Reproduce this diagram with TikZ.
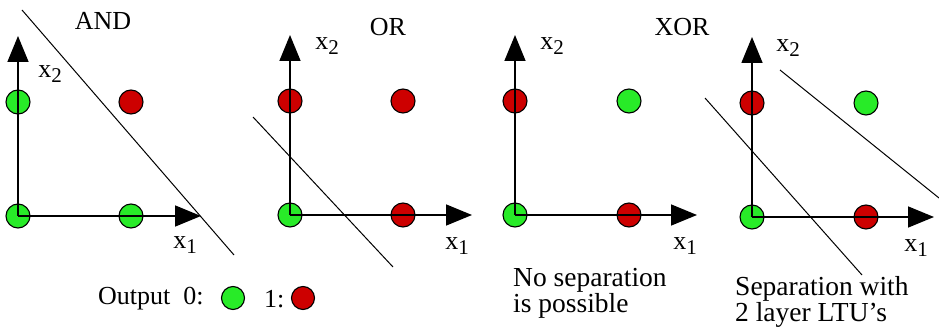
\documentclass[tikz,border=0pt]{standalone}
\usepackage{fontspec}
\setmainfont{Liberation Serif}
\usetikzlibrary{arrows.meta}
\newcommand{\xsub}[1]{x\raisebox{-5pt}{\fontsize{21}{21}\selectfont #1}}

\begin{document}
\begin{tikzpicture}[
        x=1pt, y=-1pt,
        zero/.style={circle, draw, line width=1.1pt, minimum size=24pt, inner sep=0pt, fill={rgb,255:red,40;green,235;blue,40}},
        one/.style={circle, draw, line width=1.1pt, minimum size=24pt, inner sep=0pt, fill={rgb,255:red,205;green,0;blue,0}},
        lbl/.style={inner sep=0pt, font=\fontsize{26}{24}\selectfont},
        note/.style={inner sep=0pt, align=left, anchor=north west, font=\fontsize{27.5}{24}\selectfont},
        axis/.style={-{Triangle[length=26pt, width=21pt]}, line width=1.6pt},
        cut/.style={line width=1pt}
    ]
        \useasboundingbox (0,0) rectangle (939,336);

        % AND
        \node[zero] (and00) at (18,216) {};
        \node[zero] (and01) at (18,102) {};
        \node[zero] (and10) at (131,216) {};
        \node[one] (and11) at (131,102) {};
        \coordinate (andO) at (18,216);
        \coordinate (andX) at (201,216);
        \coordinate (andY) at (18,36);
        \node[lbl] (andT) at (103,21) {AND};
        \node[lbl] (andx2) at (50,74) {\xsub{2}};
        \node[lbl] (andx1) at (185,245) {\xsub{1}};
        \coordinate (andA) at (22,10);
        \coordinate (andB) at (234,255);

        % OR
        \node[zero] (or00) at (290,215) {};
        \node[one] (or01) at (290,101) {};
        \node[one] (or10) at (403,215) {};
        \node[one] (or11) at (403,101) {};
        \coordinate (orO) at (290,215);
        \coordinate (orX) at (472,215);
        \coordinate (orY) at (290,35);
        \node[lbl] (orT) at (388,27) {OR};
        \node[lbl] (orx2) at (327,46) {\xsub{2}};
        \node[lbl] (orx1) at (457,246) {\xsub{1}};
        \coordinate (orA) at (253,117);
        \coordinate (orB) at (393,267);

        % XOR
        \node[zero] (xor00) at (515,215) {};
        \node[one] (xor01) at (515,101) {};
        \node[one] (xor10) at (629,215) {};
        \node[zero] (xor11) at (629,101) {};
        \coordinate (xorO) at (515,215);
        \coordinate (xorX) at (697,215);
        \coordinate (xorY) at (515,35);
        \node[lbl] (xorT) at (682,27) {XOR};
        \node[lbl] (xorx2) at (552,46) {\xsub{2}};
        \node[lbl] (xorx1) at (685,246) {\xsub{1}};
        \node[note] (nosep) at (513,268) {No separation\\is possible};

        % XOR, two layers
        \node[zero] (two00) at (752,217) {};
        \node[one] (two01) at (752,103) {};
        \node[one] (two10) at (866,217) {};
        \node[zero] (two11) at (866,103) {};
        \coordinate (twoO) at (752,217);
        \coordinate (twoX) at (934,217);
        \coordinate (twoY) at (752,37);
        \node[lbl] (twox2) at (788,48) {\xsub{2}};
        \node[lbl] (twox1) at (916,248) {\xsub{1}};
        \coordinate (twoA) at (705,98);
        \coordinate (twoB) at (862,275);
        \coordinate (twoC) at (780,70);
        \coordinate (twoD) at (939,198);
        \node[note] (sep) at (735,276) {Separation with\\2 layer LTU's};

        % legend
        \node[lbl, anchor=west] (out) at (98,299) {Output\ \ 0:};
        \node[zero, minimum size=23pt] (key0) at (233,298) {};
        \node[lbl, anchor=west] (outone) at (264,299) {1:};
        \node[one, minimum size=23pt] (key1) at (303,298) {};

        \draw[axis] (andO) -- (andX);
        \draw[axis] (andO) -- (andY);
        \draw[cut] (andA) -- (andB);
        \draw[axis] (orO) -- (orX);
        \draw[axis] (orO) -- (orY);
        \draw[cut] (orA) -- (orB);
        \draw[axis] (xorO) -- (xorX);
        \draw[axis] (xorO) -- (xorY);
        \draw[axis] (twoO) -- (twoX);
        \draw[axis] (twoO) -- (twoY);
        \draw[cut] (twoA) -- (twoB);
        \draw[cut] (twoC) -- (twoD);
    \end{tikzpicture}
\end{document}
